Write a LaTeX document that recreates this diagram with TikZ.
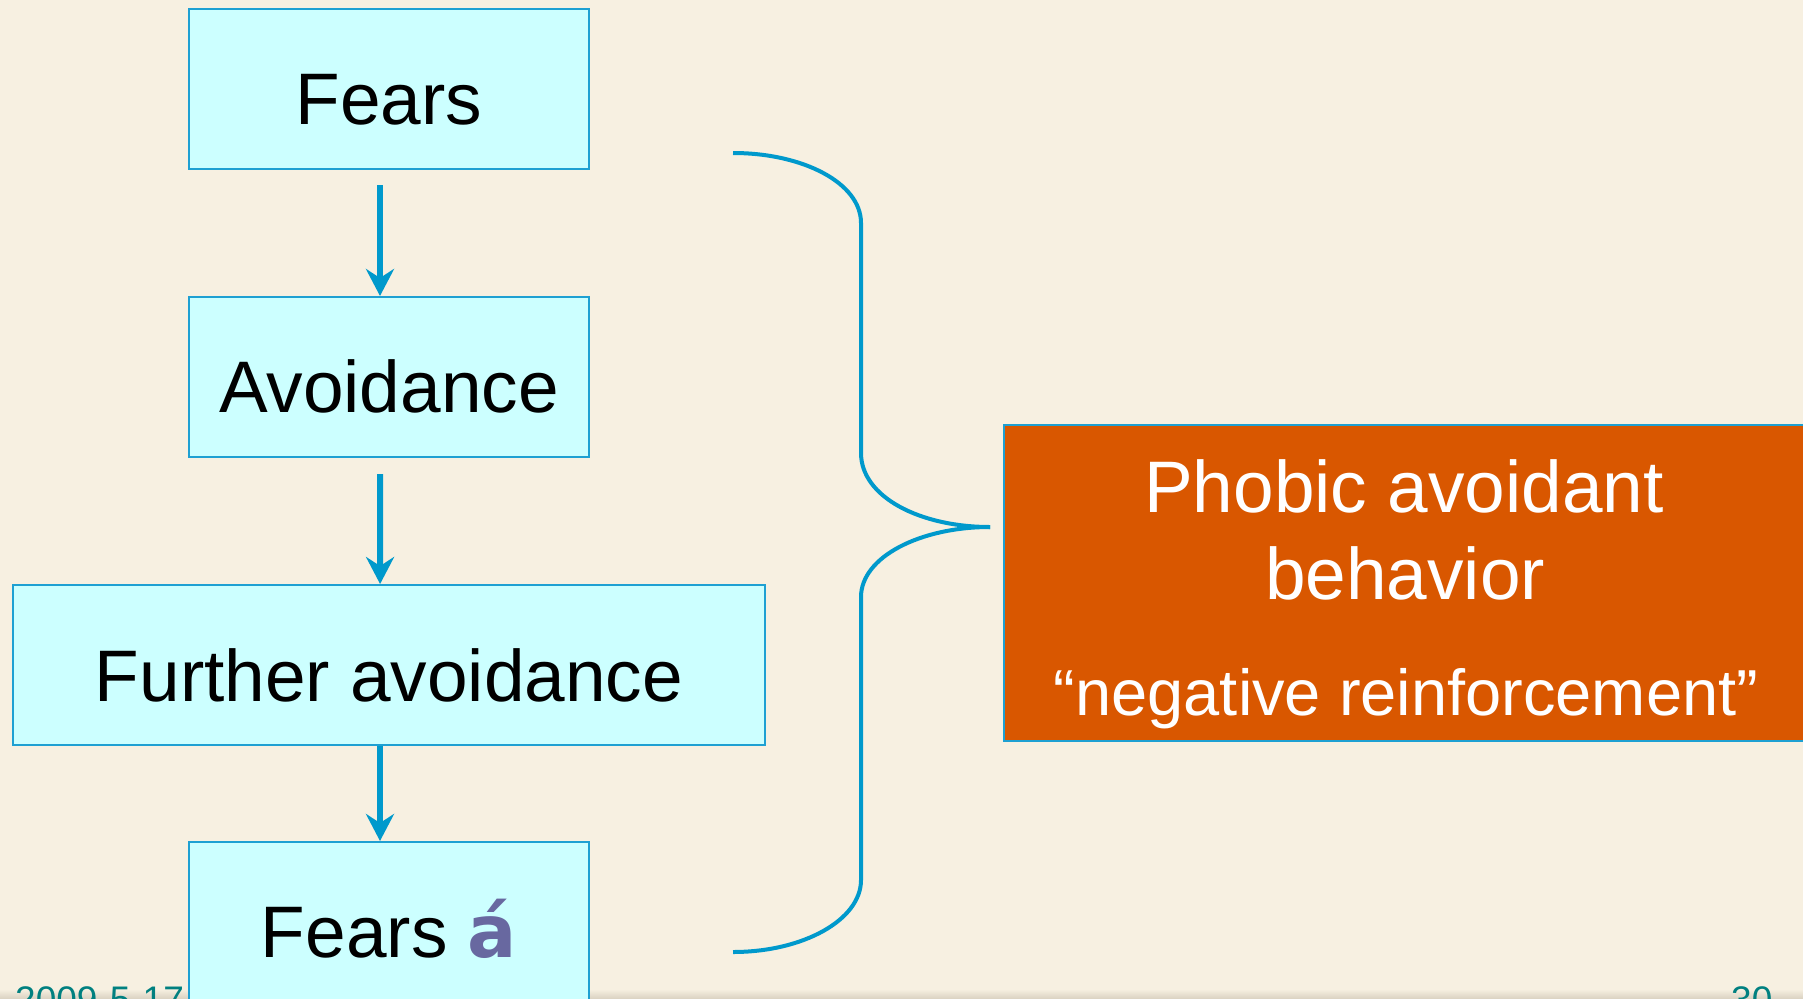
\documentclass[tikz,border=0pt]{standalone}
\usepackage{fontspec}
\setmainfont{Liberation Sans}
\newfontfamily\accfont{DejaVu Sans}
\usetikzlibrary{arrows.meta}
\definecolor{bgbeige}{RGB}{247,240,225}
\definecolor{bandgray}{RGB}{220,212,196}
\definecolor{boxcyan}{RGB}{204,255,255}
\definecolor{lineblue}{RGB}{0,153,204}
\definecolor{borderblue}{RGB}{30,160,210}
\definecolor{orangebox}{RGB}{217,87,0}
\definecolor{accpurple}{RGB}{104,104,160}
\definecolor{footteal}{RGB}{0,128,128}
\tikzset{
  flowbox/.style={draw=borderblue, line width=2pt, fill=boxcyan, inner sep=0pt, minimum height=160pt},
  boxtext/.style={anchor=base, inner sep=0pt, font=\fontsize{73}{80}\selectfont},
  flowarrow/.style={draw=lineblue, line width=6pt, -{Stealth[length=27pt,width=28pt,inset=9pt]}},
  bracecurve/.style={draw=lineblue, line width=4pt},
  orangestyle/.style={draw=borderblue, line width=2pt, fill=orangebox, inner sep=0pt, minimum width=806pt, minimum height=316pt},
  whitetext/.style={anchor=base, inner sep=0pt, text=white},
  foottext/.style={anchor=base west, inner sep=0pt, text=footteal, font=\fontsize{37}{40}\selectfont}
}
\begin{document}
\begin{tikzpicture}[x=1pt,y=-1pt]
\useasboundingbox (0,0) rectangle (1803,998);
\clip (0,0) rectangle (1803,998);
\fill[bgbeige] (0,0) rectangle (1803,998);
\shade[top color=bgbeige, bottom color=bandgray] (0,989) rectangle (1803,998);

% boxes
\node[flowbox, minimum width=400pt] (fears) at (388.7,89) {};
\node[flowbox, minimum width=400pt] (avoid) at (388.7,377) {};
\node[flowbox, minimum width=752pt] (further) at (388.8,665) {};
\node[flowbox, minimum width=400pt] (fears2) at (388.7,922) {};

\node[boxtext] (tfears) at (389,124) {Fears};
\node[boxtext] (tavoid) at (389,412) {Avoidance};
\node[boxtext] (tfurther) at (389,701) {Further avoidance};
\node[boxtext] (tfears2) at (389,957) {Fears \textcolor{accpurple}{\accfont\bfseries á}};

% arrows
\draw[flowarrow, shorten <=15pt] ([xshift=-8.7pt]fears.south) -- ([xshift=-8.7pt]avoid.north);
\draw[flowarrow, shorten <=16pt] ([xshift=-8.7pt]avoid.south) -- ([xshift=-8.7pt]further.north);
\draw[flowarrow] ([xshift=-8.8pt]further.south) -- ([xshift=-8.7pt]fears2.north);

% orange result box
\node[orangestyle] (result) at (1407,583) {};
\node[whitetext, font=\fontsize{73}{80}\selectfont] (r1) at (1404,512) {Phobic avoidant};
\node[whitetext, font=\fontsize{73}{80}\selectfont] (r2) at (1405,599) {behavior};
\node[whitetext, font=\fontsize{65}{70}\selectfont] (r3) at (1406,715) {“negative reinforcement”};

% brace
\coordinate (btop) at (733,153);
\coordinate (bbot) at (733,952);
\coordinate (btip) at (990,527);
\draw[bracecurve] (btop) .. controls (803,153) and (861,183) .. (861,223)
  -- (861,453) .. controls (861,497) and (920,527) .. (btip);
\draw[bracecurve] (btip) .. controls (920,527) and (861,557) .. (861,597)
  -- (861,880) .. controls (861,920) and (803,952) .. (bbot);

% footer
\node[foottext] (date) at (15,1012) {2009-5-17};
\node[foottext] (page) at (1731,1012) {30};
\end{tikzpicture}
\end{document}
